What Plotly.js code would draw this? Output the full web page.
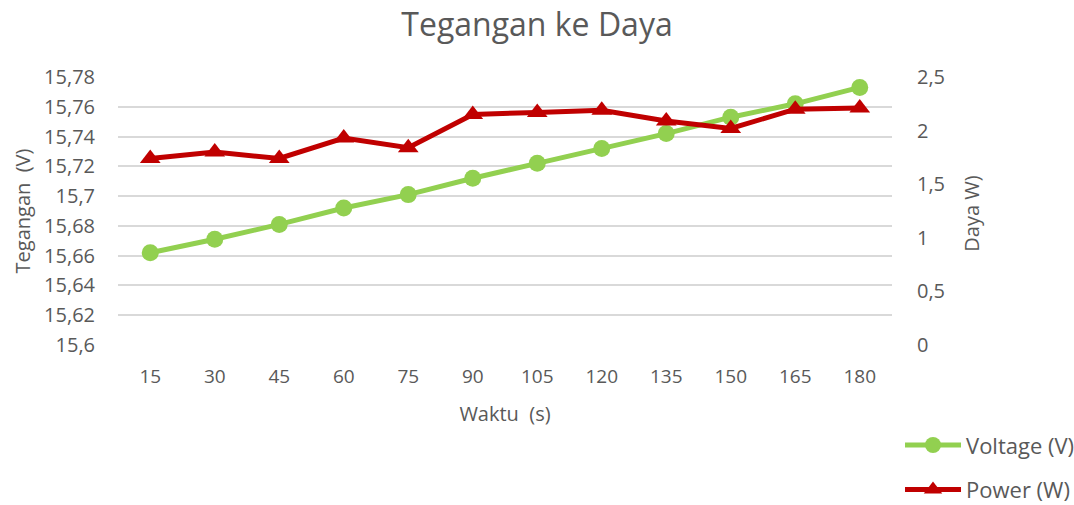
<!DOCTYPE html>
<html>
<head>
<meta charset="utf-8">
<script src="https://cdn.plot.ly/plotly-3.0.1.min.js"></script>
<style>html,body{margin:0;padding:0;background:#fff;}#chart{width:1074px;height:505px;}</style>
</head>
<body>
<div id="chart"></div>
<script>
var waktu = ["15","30","45","60","75","90","105","120","135","150","165","180"];
var voltage = [15.662,15.671,15.681,15.692,15.701,15.712,15.722,15.732,15.742,15.753,15.762,15.773];
var power = [1.74,1.80,1.74,1.93,1.84,2.15,2.17,2.19,2.09,2.02,2.20,2.21];
var leftTickVals = [15.6,15.62,15.64,15.66,15.68,15.7,15.72,15.74,15.76,15.78];
var leftTickText = ["15,6","15,62","15,64","15,66","15,68","15,7","15,72","15,74","15,76","15,78"];
var rightTickVals = [0,0.5,1,1.5,2,2.5];
var rightTickText = ["0","0,5","1","1,5","2","2,5"];

var FONT = "'Open Sans', sans-serif";
var TXT = "#595959";

var traces = [
  {x: waktu, y: voltage, name: "Voltage (V)", type: "scatter", mode: "lines+markers",
   line: {color: "#92D050", width: 5}, marker: {symbol: "circle", size: 17, color: "#92D050"},
   legendgroup: "a", yaxis: "y"},
  {x: waktu, y: power, name: "Power (W)", type: "scatter", mode: "lines+markers",
   line: {color: "#C00000", width: 5}, marker: {symbol: "triangle-up", size: 18, color: "#C00000"},
   legendgroup: "b", yaxis: "y2"}
];

var layout = {
  width: 1074, height: 505,
  margin: {l: 118, r: 182, t: 77, b: 160},
  paper_bgcolor: "#fff", plot_bgcolor: "#fff",
  font: {family: FONT, color: TXT, size: 19},
  title: {text: "Tegangan ke Daya", font: {family: FONT, size: 32, color: TXT}, x: 0.5, xanchor: "center", y: 0.95, yanchor: "middle"},
  xaxis: {type: "category", range: [-0.5, 11.5], showgrid: false, zeroline: false, showline: false, automargin: false,
          ticks: "", ticklabelstandoff: 18, tickfont: {size: 19},
          title: {text: "Waktu  (s)", font: {size: 20}, standoff: 18}},
  yaxis: {range: [15.6, 15.78], tickvals: leftTickVals, ticktext: leftTickText, automargin: false,
          showgrid: true, gridcolor: "#D9D9D9", gridwidth: 2, zeroline: false, showline: false,
          ticks: "", ticklabelstandoff: 22, tickfont: {size: 20},
          title: {text: "Tegangan  (V)", font: {size: 20}, standoff: 8}},
  yaxis2: {range: [0, 2.5], tickvals: rightTickVals, ticktext: rightTickText, overlaying: "y", side: "right", automargin: false,
           showgrid: false, zeroline: false, showline: false, ticks: "", ticklabelstandoff: 24, tickfont: {size: 20}},
  annotations: [
    {text: "Daya W)", xref: "paper", yref: "paper", x: 1.103, y: 0.489, xanchor: "center", yanchor: "middle",
     textangle: -90, showarrow: false, font: {size: 20, color: TXT}}
  ],
  showlegend: true,
  legend: {xref: "container", yref: "container", x: 0.838, xanchor: "left", y: 0.16, yanchor: "top",
           traceorder: "grouped", tracegroupgap: 13, itemwidth: 56,
           font: {size: 22, color: TXT}, bgcolor: "rgba(0,0,0,0)"}
};

Plotly.newPlot("chart", traces, layout, {displayModeBar: false, staticPlot: true});
</script>
</body>
</html>
